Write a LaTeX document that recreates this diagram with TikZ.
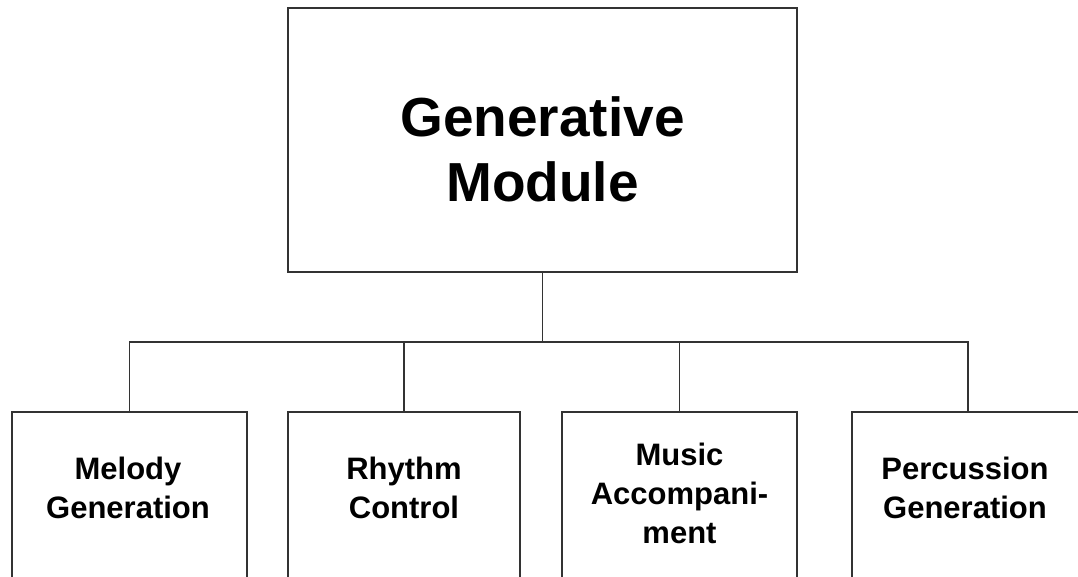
\documentclass[tikz,border=0pt]{standalone}
\usepackage{fontspec}
\setmainfont{Liberation Sans}
\begin{document}
\begin{tikzpicture}[x=1pt,y=1pt,
  box/.style={draw=black!80, line width=1.8pt, fill=white, inner sep=0pt},
  link/.style={draw=black!80, line width=1.8pt},
  bigtext/.style={font=\bfseries\fontsize{55}{65}\selectfont, align=center, inner sep=0pt},
  subtext/.style={font=\bfseries\fontsize{31}{39}\selectfont, align=center, inner sep=0pt}]
\useasboundingbox (0,0) rectangle (1078,577);
\clip (0,0) rectangle (1078,577);
\fill[white] (0,0) rectangle (1078,577);

% main module
\node[box, minimum width=509pt, minimum height=264pt] (top) at (542.5,437) {};
\node[bigtext] (toptext) at (542.5,428) {Generative\\Module};

% sub-modules (their lower edges run past the page)
\node[box, minimum width=235pt, minimum height=195pt] (b1) at (129.5,67.5) {};
\node[box, minimum width=232pt, minimum height=195pt] (b2) at (404,67.5) {};
\node[box, minimum width=235pt, minimum height=195pt] (b3) at (679.5,67.5) {};
\node[box, minimum width=232pt, minimum height=195pt] (b4) at (968,67.5) {};

\node[subtext] (t1) at (128,89) {Melody\\Generation};
\node[subtext] (t2) at (404,89) {Rhythm\\Control};
\node[subtext] (t3) at (679.5,84) {Music\\Accompani-\\ment};
\node[subtext] (t4) at (965,89) {Percussion\\Generation};

% tree connectors
\coordinate (bus) at (0,235);
\draw[link] (top.south) -- (top.south |- bus);
\draw[link] (top.south |- bus) -| (b1.north);
\draw[link] (top.south |- bus) -| (b2.north);
\draw[link] (top.south |- bus) -| (b3.north);
\draw[link] (top.south |- bus) -| (b4.north);
\end{tikzpicture}
\end{document}
